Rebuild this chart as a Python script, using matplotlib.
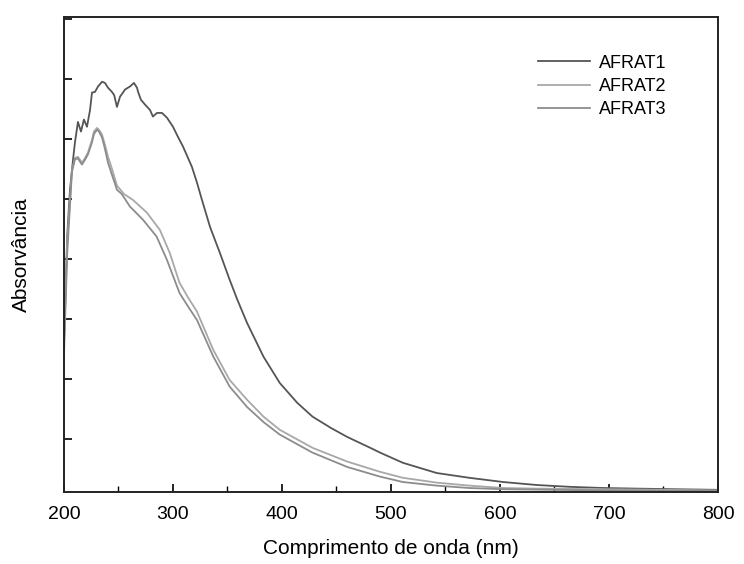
"""
UV-Vis absorbance spectra of AFRAT1-3 samples (values read off a scanned figure).
"""
import matplotlib
matplotlib.use("Agg")
import matplotlib.pyplot as plt
from matplotlib.ticker import MultipleLocator, NullFormatter

plt.rcParams["font.family"] = ["Liberation Sans", "DejaVu Sans"]

# wavelength (nm) / absorbance (arbitrary units)
wl_1 = [200, 203, 205.5, 208, 210, 212.8, 215.6, 218.3, 221.1, 223.9, 225.7, 228.4,
        231.2, 234.9, 237.6, 240.4, 244, 246, 248.6, 251.4, 256, 260.5, 264.2, 267,
        268, 270.6, 274.3, 278.9, 281.6, 285.3, 289.9, 294.5, 300, 304.6, 309.2,
        317.4, 322, 326.6, 334, 343, 352, 359, 368, 383, 398, 414, 428, 445, 460,
        481, 490, 511, 542, 572, 603, 634, 664, 695, 726, 760, 800]
abs_1 = [2.6, 4.4, 5.15, 5.6, 5.93, 6.28, 6.12, 6.32, 6.2, 6.48, 6.77, 6.78,
         6.87, 6.95, 6.93, 6.85, 6.78, 6.73, 6.53, 6.70, 6.82, 6.87, 6.93, 6.85,
         6.78, 6.65, 6.57, 6.48, 6.37, 6.43, 6.43, 6.35, 6.2, 6.03, 5.87,
         5.53, 5.27, 4.98, 4.53, 4.1, 3.65, 3.32, 2.93, 2.37, 1.93, 1.6, 1.37, 1.18, 1.03,
         0.85, 0.77, 0.6, 0.43, 0.35, 0.28, 0.23, 0.2, 0.18, 0.17, 0.16, 0.15]

wl_2 = [200, 203, 207.3, 210.1, 212.8, 216.5, 219.3, 222, 225.7, 227.5, 230.3, 232.1,
        234.9, 237.6, 240.4, 244, 248.6, 255, 263.3, 276, 288, 297, 306, 314, 322,
        337, 352, 368, 383, 398, 428, 460, 490, 511, 542, 572, 603, 634, 695, 800]
abs_2 = [2.6, 4.3, 5.48, 5.68, 5.7, 5.6, 5.68, 5.77, 5.98, 6.12, 6.18, 6.15,
         6.07, 5.9, 5.7, 5.5, 5.22, 5.08, 4.98, 4.77, 4.48, 4.1, 3.6, 3.35, 3.12,
         2.48, 1.98, 1.65, 1.37, 1.15, 0.85, 0.62, 0.45, 0.35, 0.27, 0.22, 0.18, 0.17, 0.16, 0.14]

wl_3 = [200, 203, 207.3, 210.1, 212.8, 216.5, 219.3, 222, 225.7, 227.5, 230.3, 232.1,
        234.9, 237.6, 240.4, 244, 248.6, 253, 260.5, 272.5, 285, 294.5, 306, 314, 322,
        337, 352, 368, 383, 398, 428, 460, 490, 511, 542, 572, 603, 695, 800]
abs_3 = [2.4, 4.1, 5.45, 5.66, 5.67, 5.57, 5.65, 5.74, 5.94, 6.08, 6.15, 6.12,
         6.02, 5.83, 5.6, 5.4, 5.15, 5.08, 4.87, 4.65, 4.37, 3.98, 3.43, 3.2, 2.98,
         2.37, 1.87, 1.53, 1.28, 1.07, 0.77, 0.53, 0.37, 0.28, 0.22, 0.18, 0.16, 0.14, 0.13]

labels = ["AFRAT1", "AFRAT2", "AFRAT3"]
colors = ["#555555", "#a8a8a8", "#8c8c8c"]

fig = plt.figure(figsize=(7.44, 5.64), dpi=100)
ax = fig.add_axes([0.086, 0.128, 0.879, 0.842])

for wl, ab, lab, c in zip([wl_1, wl_2, wl_3], [abs_1, abs_2, abs_3], labels, colors):
    ax.plot(wl, ab, color=c, lw=1.3, label=lab)

ax.set_xlim(200, 800)
ax.set_ylim(0.117, 8.03)
ax.xaxis.set_major_locator(MultipleLocator(100))
ax.xaxis.set_minor_locator(MultipleLocator(50))
ax.yaxis.set_major_locator(MultipleLocator(1))
ax.yaxis.set_major_formatter(NullFormatter())
ax.tick_params(axis="both", which="major", direction="in", length=6, width=1.2,
               labelsize=14, pad=10)
ax.tick_params(axis="x", which="minor", direction="in", length=4, width=1.0)
for s in ax.spines.values():
    s.set_linewidth(1.4)
    s.set_color("#222222")

ax.set_xlabel("Comprimento de onda (nm)", fontsize=15, labelpad=12)
ax.set_ylabel("Absorvância", fontsize=15, labelpad=14)

ax.legend(loc="upper left", bbox_to_anchor=(0.70, 0.955), frameon=False,
          fontsize=13, handlelength=2.9, handletextpad=0.45, labelspacing=0.35)

fig.savefig("out.png", dpi=100)
